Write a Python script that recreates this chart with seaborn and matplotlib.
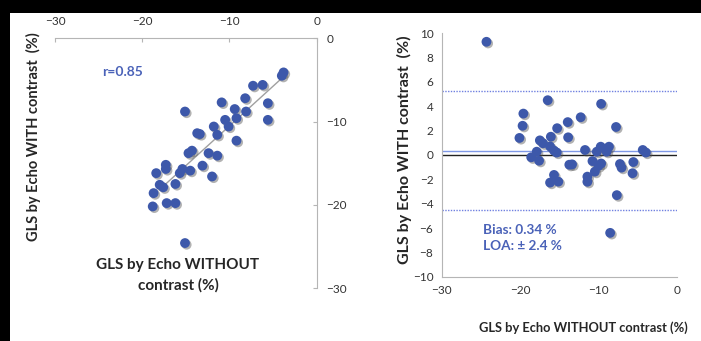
import matplotlib
matplotlib.use("Agg")
import matplotlib.pyplot as plt
import matplotlib.patheffects as pe
from matplotlib.patches import Rectangle
import numpy as np
import seaborn as sns

sns.set_style("white")
plt.rcParams["font.family"] = ["Lato", "DejaVu Sans"]

# left panel: GLS with vs without contrast
without_contrast = [-3.8, -4.0, -7.3, -6.2, -8.2, -10.9, -5.6, -15.1, -9.4, -8.1,
                    -5.6, -11.8, -10.5, -9.2, -11.4, -10.1, -9.2, -13.7, -13.4, -14.7,
                    -14.3, -12.4, -11.4, -17.3, -17.3, -18.4, -15.4, -15.7, -14.5, -13.1,
                    -12.0, -18.0, -17.6, -16.2, -18.7, -18.8, -17.2, -16.2, -15.1]
with_contrast = [-4.1, -4.5, -5.7, -5.6, -7.2, -7.7, -7.8, -8.8, -8.5, -8.8,
                 -9.8, -10.6, -9.8, -9.6, -11.6, -10.6, -12.3, -11.4, -11.5, -13.8,
                 -13.5, -13.8, -14.1, -15.2, -15.7, -16.2, -15.7, -16.2, -15.9, -15.3,
                 -16.6, -17.6, -17.9, -17.5, -18.6, -20.2, -19.8, -19.8, -24.6]
r_text = "r=0.85"

# right panel: Bland-Altman
ba_mean = [-24.3, -16.5, -9.7, -19.6, -12.3, -19.7, -13.95, -15.3, -7.8, -20.1,
           -16.1, -13.9, -17.5, -17.1, -16.2, -15.7, -15.35, -17.9, -11.75, -9.75,
           -8.7, -10.25, -9.0, -4.4, -4.0, -18.6, -17.6, -13.75, -13.4, -10.8,
           -9.7, -10.05, -7.3, -5.6, -7.1, -10.5, -5.7, -11.45, -11.45, -15.7,
           -16.2, -15.15, -7.7, -8.55]
ba_diff = [9.3, 4.5, 4.2, 3.4, 3.1, 2.4, 2.7, 2.2, 2.3, 1.4,
           1.5, 1.45, 1.2, 0.96, 0.7, 0.36, 0.2, 0.27, 0.41, 0.68,
           0.68, 0.27, 0.27, 0.41, 0.2, -0.19, -0.47, -0.8, -0.77, -0.5,
           -0.7, -0.9, -0.74, -0.58, -1.04, -1.37, -1.5, -1.78, -2.2, -1.64,
           -2.27, -2.19, -3.3, -6.4]
bias = 0.34
loa_upper = 5.25
loa_lower = -4.55
bias_text = "Bias: 0.34 %\nLOA: \u00b1 2.4 %"

DOT = "#3d58aa"
TEXT_BLUE = "#4a62b8"
SPINE = "#b5b5b5"
TICK_TXT = "#333333"

shadow = [pe.SimplePatchShadow(offset=(1.2, -1.2), shadow_rgbFace="#555555", alpha=0.45), pe.Normal()]

fig = plt.figure(figsize=(7.01, 3.41), dpi=100)
fig.patch.set_facecolor("black")
fig.patches.append(Rectangle((10 / 701, 0), 1, (341 - 13) / 341, transform=fig.transFigure,
                             facecolor="white", edgecolor="none", zorder=-10))

# ---- left panel ----
ax1 = fig.add_axes([0.0785, 0.1554, 0.3733, 0.7323])
ax1.set_xlim(-30, 0)
ax1.set_ylim(-30, 0)
sns.scatterplot(x=without_contrast, y=with_contrast, ax=ax1, s=50, color=DOT,
                edgecolor="none", zorder=3)
for coll in ax1.collections:
    coll.set_path_effects(shadow)

slope, intercept = np.polyfit(without_contrast, with_contrast, 1)
xs = np.array([-17.5, max(without_contrast)])
ax1.plot(xs, slope * xs + intercept, color="#a0a0a0", lw=1, zorder=2)

for s in ["left", "bottom"]:
    ax1.spines[s].set_visible(False)
for s in ["top", "right"]:
    ax1.spines[s].set_color(SPINE)
    ax1.spines[s].set_linewidth(0.8)
ax1.xaxis.tick_top()
ax1.yaxis.tick_right()
ax1.set_xticks([-30, -20, -10, 0])
ax1.set_yticks([0, -10, -20, -30])
ax1.tick_params(axis="x", direction="in", length=3, color=SPINE, pad=8, labelsize=8.5, labelcolor=TICK_TXT)
ax1.tick_params(axis="y", direction="in", length=3, color=SPINE, pad=7, labelsize=8.5, labelcolor=TICK_TXT)

ax1.set_xlabel("GLS by Echo WITHOUT\ncontrast (%)", fontsize=11, fontweight="bold", linespacing=1.5)
ax1.xaxis.set_label_position("bottom")
ax1.xaxis.set_label_coords(0.47, 0.052)
ax1.xaxis.label.set_va("center")
ax1.set_ylabel("GLS by Echo WITH contrast  (%)", fontsize=10.5, fontweight="bold")
ax1.yaxis.set_label_position("left")
ax1.yaxis.set_label_coords(-0.084, 0.605)
ax1.yaxis.label.set_va("center")

ax1.text(-24.6, -4.1, r_text, color=TEXT_BLUE, fontsize=10, fontweight="bold", va="center")

# ---- right panel ----
ax2 = fig.add_axes([0.6301, 0.1886, 0.3361, 0.7138])
ax2.set_xlim(-30, 0)
ax2.set_ylim(-10, 10)
ax2.axhline(0, color="#222222", lw=1, zorder=1)
ax2.axhline(bias, color="#7f98e6", lw=1, zorder=1)
ax2.axhline(loa_upper, color="#7080e0", lw=1, ls=(0, (1, 1)), zorder=1)
ax2.axhline(loa_lower, color="#7080e0", lw=1, ls=(0, (1, 1)), zorder=1)
sns.scatterplot(x=ba_mean, y=ba_diff, ax=ax2, s=50, color=DOT, edgecolor="none", zorder=3)
for coll in ax2.collections:
    coll.set_path_effects(shadow)

for s in ["top", "right"]:
    ax2.spines[s].set_visible(False)
for s in ["left", "bottom"]:
    ax2.spines[s].set_color(SPINE)
    ax2.spines[s].set_linewidth(0.8)
ax2.set_xticks([-30, -20, -10, 0])
ax2.set_yticks(np.arange(-10, 11, 2))
ax2.tick_params(axis="both", direction="out", length=3, color=SPINE, pad=3,
                labelsize=8.5, labelcolor=TICK_TXT)
ax2.tick_params(axis="x", pad=3)

ax2.set_xlabel("GLS by Echo WITHOUT contrast (%)", fontsize=9.3, fontweight="bold")
ax2.xaxis.set_label_coords(0.60, -0.21)
ax2.xaxis.label.set_va("center")
ax2.set_ylabel("GLS by Echo WITH contrast  (%)", fontsize=11.5, fontweight="bold")
ax2.yaxis.set_label_coords(-0.156, 0.52)
ax2.yaxis.label.set_va("center")

ax2.text(-24.7, -6.85, bias_text, color=TEXT_BLUE, fontsize=9.8, fontweight="bold",
         va="center", linespacing=1.4)

fig.savefig("out.png", dpi=100, facecolor=fig.get_facecolor())
